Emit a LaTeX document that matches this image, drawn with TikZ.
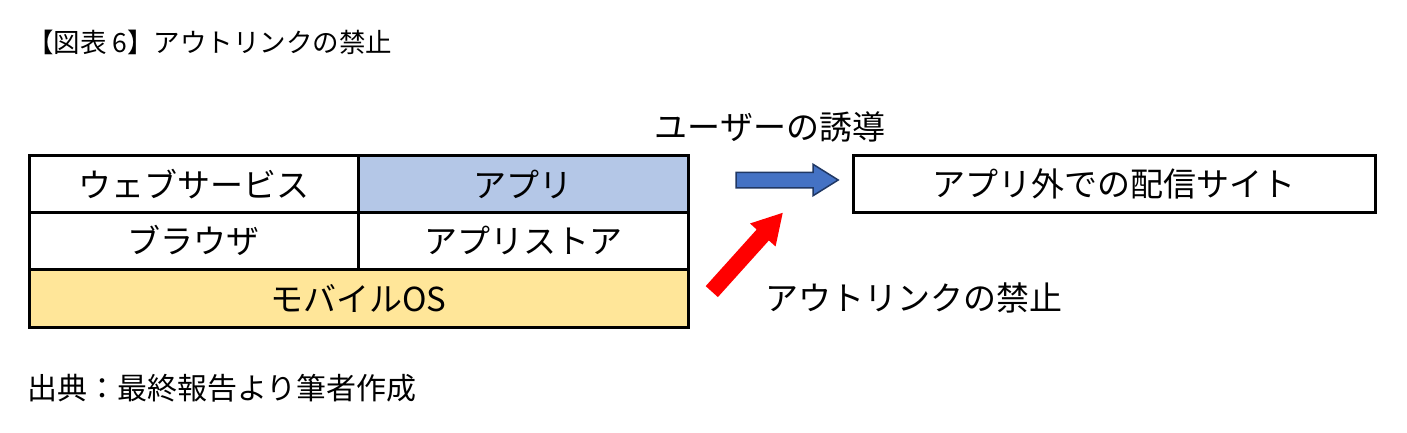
\documentclass[tikz,border=0pt]{standalone}
\usepackage{fontspec}
\setmainfont{Noto Sans CJK JP}
\usetikzlibrary{positioning,shapes.arrows}
\definecolor{appblue}{HTML}{B4C7E7}
\definecolor{osyellow}{HTML}{FFE699}
\definecolor{arrowblue}{HTML}{4472C4}
\definecolor{arrowedge}{HTML}{203864}
\newcommand{\bigtext}{\fontsize{33}{38}\selectfont}
\tikzset{
  cell/.style={draw=black,line width=3pt,inner sep=0pt,minimum height=57pt,font=\bigtext},
  label/.style={inner sep=0pt,font=\bigtext},
  fatarrow/.style={single arrow,inner xsep=0pt,single arrow tip angle=64}
}
\begin{document}
\begin{tikzpicture}[x=1pt,y=-1pt]
\useasboundingbox (0,0) rectangle (1407,433);
% title and source
\node[anchor=west,inner sep=0pt,font=\fontsize{26.5}{32}\selectfont] (title) at (27,42) {【図表 6】アウトリンクの禁止};
\node[anchor=west,inner sep=0pt,font=\fontsize{30}{34}\selectfont] (source) at (27,388) {出典：最終報告より筆者作成};
% layer table
\node[cell,minimum width=329pt] (web) at (193.5,184) {ウェブサービス};
\node[cell,minimum width=330pt,fill=appblue] (app) at (523,184) {アプリ};
\node[cell,minimum width=329pt] (browser) at (193.5,240.5) {ブラウザ};
\node[cell,minimum width=330pt] (store) at (523,240.5) {アプリストア};
\node[cell,minimum width=659pt,minimum height=58pt,fill=osyellow] (os) at (358.5,298) {モバイルOS};
% outside site
\node[cell,minimum width=522pt] (site) at (1114,183.5) {アプリ外での配信サイト};
% arrows
\node[fatarrow,fill=arrowblue,draw=arrowedge,line width=1.5pt,inner ysep=7pt,minimum height=102pt,single arrow head extend=8pt] (guide) at (781,180) {};
\node[label] (guidetext) at (770,127) {ユーザーの誘導};
\node[fatarrow,fill=red,inner ysep=8pt,minimum height=106pt,single arrow head extend=9pt,single arrow tip angle=60,rotate=48] (ban) at (742.5,257.5) {};
\node[label,anchor=west] (bantext) at (765,298) {アウトリンクの禁止};
\end{tikzpicture}
\end{document}
